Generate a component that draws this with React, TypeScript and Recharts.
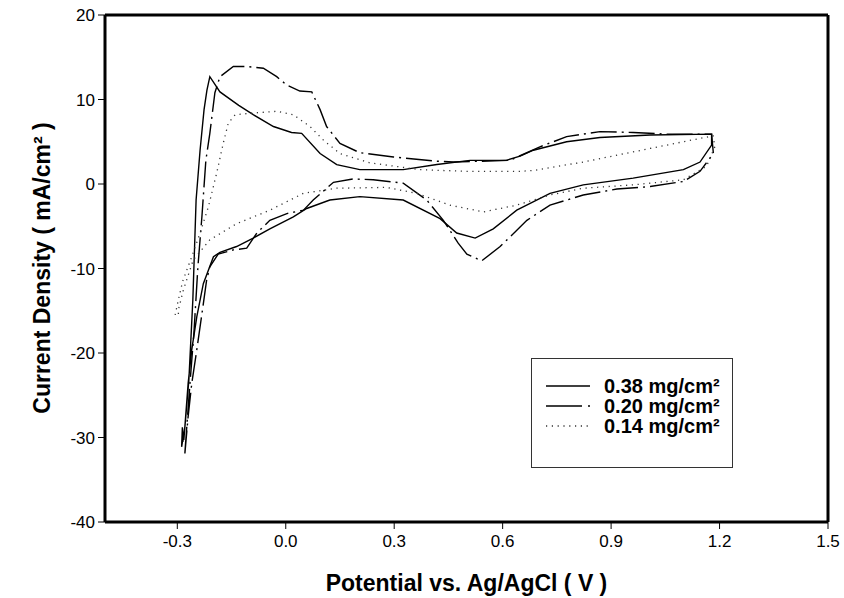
import React from 'react';
import { LineChart, Line, XAxis, YAxis, ReferenceLine, Legend, Label } from 'recharts';

// potential (V) vs current density (mA/cm2)
const load038 = [
  { v: -0.282, i: -30.3 }, { v: -0.268, i: -23.2 }, { v: -0.257, i: -13.7 }, { v: -0.248, i: -1.9 },
  { v: -0.237, i: 4.0 }, { v: -0.226, i: 8.8 }, { v: -0.218, i: 11.1 }, { v: -0.21, i: 12.7 },
  { v: -0.182, i: 10.9 }, { v: -0.13, i: 9.3 }, { v: -0.09, i: 8.2 }, { v: -0.034, i: 6.8 },
  { v: 0.016, i: 6.1 }, { v: 0.044, i: 6.0 }, { v: 0.095, i: 3.6 }, { v: 0.141, i: 2.3 },
  { v: 0.205, i: 1.7 }, { v: 0.325, i: 1.7 }, { v: 0.418, i: 2.3 }, { v: 0.51, i: 2.8 },
  { v: 0.61, i: 2.8 }, { v: 0.648, i: 3.3 }, { v: 0.685, i: 4.0 }, { v: 0.777, i: 5.0 },
  { v: 0.869, i: 5.5 }, { v: 1.008, i: 5.8 }, { v: 1.178, i: 5.9 }, { v: 1.178, i: 4.6 },
  { v: 1.146, i: 2.6 }, { v: 1.1, i: 1.7 }, { v: 0.961, i: 0.7 }, { v: 0.823, i: -0.1 },
  { v: 0.731, i: -1.1 }, { v: 0.639, i: -3.1 }, { v: 0.574, i: -5.3 }, { v: 0.524, i: -6.4 },
  { v: 0.473, i: -5.8 }, { v: 0.427, i: -4.1 }, { v: 0.325, i: -1.9 }, { v: 0.205, i: -1.5 },
  { v: 0.122, i: -1.9 }, { v: 0.058, i: -2.9 }, { v: 0.021, i: -3.9 }, { v: -0.044, i: -5.3 },
  { v: -0.09, i: -6.4 }, { v: -0.136, i: -7.4 }, { v: -0.182, i: -8.1 }, { v: -0.2, i: -8.6 },
  { v: -0.228, i: -11.8 }, { v: -0.246, i: -15.7 }, { v: -0.26, i: -19.6 }, { v: -0.27, i: -23.6 },
  { v: -0.279, i: -28.7 }, { v: -0.288, i: -31.1 }, { v: -0.286, i: -28.8 }, { v: -0.284, i: -30.5 },
];

const load020 = [
  { v: -0.279, i: -31.8 }, { v: -0.265, i: -23.6 }, { v: -0.254, i: -17.6 }, { v: -0.243, i: -9.8 },
  { v: -0.232, i: -3.9 }, { v: -0.221, i: 2.8 }, { v: -0.21, i: 6.0 }, { v: -0.196, i: 10.8 },
  { v: -0.182, i: 12.7 }, { v: -0.145, i: 13.9 }, { v: -0.108, i: 13.9 }, { v: -0.062, i: 13.7 },
  { v: -0.025, i: 12.7 }, { v: 0.003, i: 11.7 }, { v: 0.039, i: 11.0 }, { v: 0.072, i: 10.9 },
  { v: 0.095, i: 8.8 }, { v: 0.113, i: 6.8 }, { v: 0.15, i: 4.8 }, { v: 0.205, i: 3.7 },
  { v: 0.298, i: 3.2 }, { v: 0.418, i: 2.7 }, { v: 0.464, i: 2.6 }, { v: 0.62, i: 2.8 },
  { v: 0.703, i: 4.4 }, { v: 0.777, i: 5.6 }, { v: 0.869, i: 6.2 }, { v: 0.961, i: 6.1 },
  { v: 1.054, i: 5.9 }, { v: 1.178, i: 5.9 }, { v: 1.183, i: 3.6 }, { v: 1.146, i: 1.5 },
  { v: 1.1, i: 0.3 }, { v: 1.008, i: -0.3 }, { v: 0.916, i: -0.6 }, { v: 0.823, i: -1.3 },
  { v: 0.731, i: -2.5 }, { v: 0.667, i: -4.3 }, { v: 0.593, i: -7.4 }, { v: 0.542, i: -9.1 },
  { v: 0.501, i: -8.3 }, { v: 0.477, i: -7.0 }, { v: 0.436, i: -4.3 }, { v: 0.39, i: -1.9 },
  { v: 0.325, i: 0.1 }, { v: 0.242, i: 0.5 }, { v: 0.187, i: 0.6 }, { v: 0.132, i: 0.2 },
  { v: 0.076, i: -1.9 }, { v: 0.049, i: -3.1 }, { v: 0.003, i: -3.5 }, { v: -0.044, i: -4.3 },
  { v: -0.08, i: -5.8 }, { v: -0.108, i: -7.6 }, { v: -0.145, i: -7.8 }, { v: -0.187, i: -8.3 },
  { v: -0.21, i: -9.8 }, { v: -0.219, i: -11.4 }, { v: -0.233, i: -15.7 }, { v: -0.246, i: -19.6 },
  { v: -0.26, i: -23.6 }, { v: -0.27, i: -27.5 }, { v: -0.279, i: -31.9 },
];

const load014 = [
  { v: -0.306, i: -15.5 }, { v: -0.296, i: -13.5 }, { v: -0.285, i: -11.5 }, { v: -0.26, i: -8.6 },
  { v: -0.237, i: -5.8 }, { v: -0.214, i: -2.7 }, { v: -0.191, i: 1.3 }, { v: -0.173, i: 4.8 },
  { v: -0.159, i: 7.2 }, { v: -0.14, i: 8.2 }, { v: -0.09, i: 8.4 }, { v: -0.025, i: 8.6 },
  { v: 0.021, i: 8.2 }, { v: 0.067, i: 6.8 }, { v: 0.104, i: 5.2 }, { v: 0.15, i: 3.6 },
  { v: 0.233, i: 2.5 }, { v: 0.371, i: 1.7 }, { v: 0.5, i: 1.5 }, { v: 0.648, i: 1.5 },
  { v: 0.685, i: 1.6 }, { v: 0.823, i: 2.6 }, { v: 0.961, i: 3.8 }, { v: 1.1, i: 5.0 },
  { v: 1.182, i: 5.7 }, { v: 1.187, i: 4.4 }, { v: 1.164, i: 2.1 }, { v: 1.1, i: 0.5 },
  { v: 0.961, i: -0.1 }, { v: 0.823, i: -0.5 }, { v: 0.731, i: -1.3 }, { v: 0.639, i: -2.5 },
  { v: 0.547, i: -3.3 }, { v: 0.454, i: -2.5 }, { v: 0.362, i: -1.1 }, { v: 0.279, i: -0.4 },
  { v: 0.141, i: -0.5 }, { v: 0.049, i: -1.1 }, { v: -0.044, i: -3.1 }, { v: -0.136, i: -4.7 },
  { v: -0.21, i: -6.6 }, { v: -0.256, i: -9.0 }, { v: -0.283, i: -12.5 }, { v: -0.297, i: -14.9 },
  { v: -0.297, i: -15.7 },
];

const xTicks = [-0.3, 0, 0.3, 0.6, 0.9, 1.2, 1.5];
const yTicks = [-40, -30, -20, -10, 0, 10, 20];

const series = [
  { name: '0.38 mg/cm²', data: load038, dash: undefined, legendDash: undefined, width: 1.4, color: '#000' },
  { name: '0.20 mg/cm²', data: load020, dash: '26 5 2 5', legendDash: '36 6 2 10', width: 1.4, color: '#000' },
  { name: '0.14 mg/cm²', data: load014, dash: '1.2 4.6', legendDash: '1.2 4.6', width: 1.3, color: '#333' },
];

const font = '"Liberation Sans", Arial, sans-serif';

const LegendBox = () => (
  <div style={{ width: 200, height: 108, border: '1px solid #333', background: '#fff', fontFamily: font, position: 'relative' }}>
    {series.map((s, k) => (
      <div key={k} style={{ position: 'absolute', left: 14, top: 17 + k * 20, height: 20, display: 'flex', alignItems: 'center' }}>
        <svg width={44} height={4}>
          <line x1={0} y1={2} x2={44} y2={2} stroke={s.color} strokeWidth={s.width} strokeDasharray={s.legendDash} />
        </svg>
        <span style={{ marginLeft: 14, fontWeight: 'bold', fontSize: 20, color: '#000', whiteSpace: 'nowrap' }}>{s.name}</span>
      </div>
    ))}
  </div>
);

export default function App() {
  return (
    <div style={{ position: 'absolute', left: 0, top: 0, width: 844, height: 598, background: '#fff' }}>
      <LineChart width={844} height={598} margin={{ top: 15, right: 16, bottom: 0, left: 40 }}>
        <XAxis
          dataKey="v"
          type="number"
          domain={[-0.5, 1.5]}
          ticks={xTicks}
          allowDuplicatedCategory={false}
          tickFormatter={(t: number) => t.toFixed(1)}
          tick={{ fill: '#000', fontSize: 17, fontFamily: font }}
          tickSize={7}
          tickMargin={6}
          height={76}
          axisLine={{ stroke: '#000', strokeWidth: 3 }}
          tickLine={{ stroke: '#000', strokeWidth: 1 }}
        >
          <Label value="Potential vs. Ag/AgCl ( V )" position="insideBottom" offset={7}
            style={{ fontWeight: 'bold', fontSize: 23, fill: '#000', fontFamily: font }} />
        </XAxis>
        <YAxis
          dataKey="i"
          type="number"
          domain={[-40, 20]}
          ticks={yTicks}
          tick={{ fill: '#000', fontSize: 17, fontFamily: font }}
          tickSize={7}
          tickMargin={3}
          width={65}
          axisLine={{ stroke: '#000', strokeWidth: 3 }}
          tickLine={{ stroke: '#000', strokeWidth: 1 }}
        >
          <Label
            content={() => (
              <text x={42} y={268} transform="rotate(-90 42 268)" textAnchor="middle" dominantBaseline="central"
                style={{ fontWeight: 'bold', fontSize: 23, fill: '#000', fontFamily: font }}>
                Current Density ( mA/cm² )
              </text>
            )}
          />
        </YAxis>
        <ReferenceLine y={20} stroke="#000" strokeWidth={3} />
        <ReferenceLine x={1.5} stroke="#000" strokeWidth={3} />
        {series.map((s) => (
          <Line
            key={s.name}
            data={s.data}
            dataKey="i"
            name={s.name}
            type="linear"
            stroke={s.color}
            strokeWidth={s.width}
            strokeDasharray={s.dash}
            dot={false}
            activeDot={false}
            isAnimationActive={false}
          />
        ))}
        <Legend
          layout="vertical"
          align="center"
          verticalAlign="middle"
          content={() => <LegendBox />}
          wrapperStyle={{ position: 'absolute', left: 531, top: 358, width: 202, height: 110 }}
        />
      </LineChart>
    </div>
  );
}
